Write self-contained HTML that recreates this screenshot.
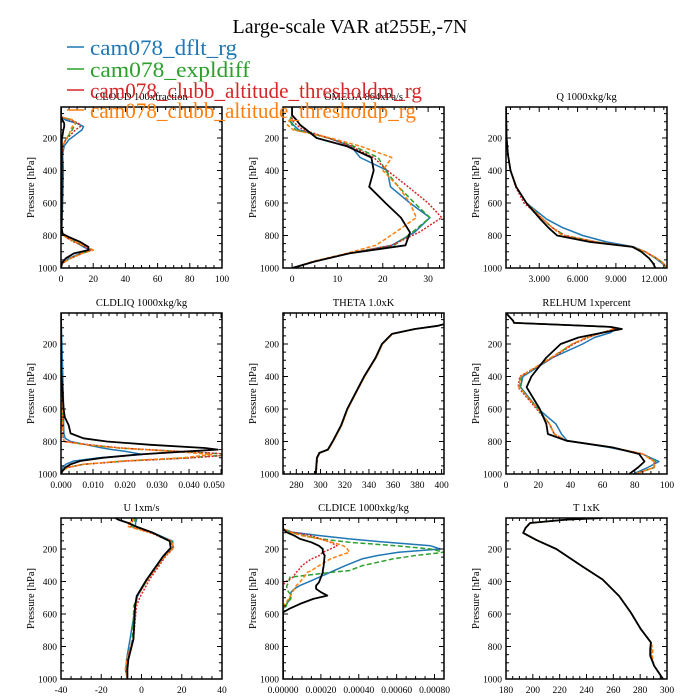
<!DOCTYPE html>
<html><head><meta charset="utf-8"><style>
body{margin:0;background:#fff;}
svg{display:block;font-family:"Liberation Serif",serif;}
</style></head><body>
<svg id="chart" width="700" height="700" viewBox="0 0 700 700" xmlns="http://www.w3.org/2000/svg">
<rect width="700" height="700" fill="#fff"/>
<text x="350" y="33" font-size="20" text-anchor="middle">Large-scale VAR at255E,-7N</text>
<g id="panels"></g>
<g id="legend">
 <line x1="67" y1="47" x2="84" y2="47" stroke="#1f77b4" stroke-width="1.6"/>
 <text x="90" y="55" font-size="22" fill="#1f77b4" textLength="147" lengthAdjust="spacingAndGlyphs">cam078_dflt_rg</text>
 <line x1="67" y1="69" x2="84" y2="69" stroke="#2ca02c" stroke-width="1.6"/>
 <text x="90" y="77" font-size="22" fill="#2ca02c" textLength="160" lengthAdjust="spacingAndGlyphs">cam078_expldiff</text>
 <line x1="67" y1="90" x2="84" y2="90" stroke="#d62728" stroke-width="1.6"/>
 <text x="90" y="98" font-size="22" fill="#d62728" textLength="332" lengthAdjust="spacingAndGlyphs">cam078_clubb_altitude_thresholdm_rg</text>
 <line x1="67" y1="110" x2="84" y2="110" stroke="#ff7f0e" stroke-width="1.6"/>
 <text x="90" y="118" font-size="22" fill="#ff7f0e" textLength="326" lengthAdjust="spacingAndGlyphs">cam078_clubb_altitude_thresholdp_rg</text>
</g>
</svg>
<script>
// ---- data ----
const cloudLev=[10,70,90,110,130,150,180,210,250,300,400,600,750,790,810,840,870,890,910,940,970,1000];
const cloudBlue=[0,0,3,10,14,13,9,5,2,1,1.5,1,0.5,1,4,9,14,18,12,5,1,0];
const cloudGreen=[0,0,7,9,8,7,5,3,1,0.5,0.5,0.5,0.5,0.5,3,9,16,20,13,6,1,0];
const cloudRed=[0,0,6,11,12,9,6,3,1,0.5,0.5,0.5,0.5,0.5,3,8,15,19,13,6,1,0];
const cloudOrange=[0,0,8,9,7,6,5,3,1,0.5,0.5,0.5,0.3,0.5,3,9,16,20,13,6,1,0];
const cloudBlack=[0,0,1,2,2,1.5,1,0.5,0.5,0.5,0.5,0.5,0.3,1,5,12,17,17,8,3,0.5,0];

const omegaLev=[10,60,90,120,150,200,250,320,400,500,600,690,780,860,910,960,1000];
const omegaBlue=[0,0,-0.5,0.3,1.5,8,13,15,21,21.7,26,30.4,27,22,12.6,5,0.3];
const omegaGreen=[0,0,-0.5,0,0.8,8,13.5,19,20.6,23.5,27,30.4,26.5,22.5,12.6,5,0.3];
const omegaRed=[0,0,0,1,2.5,8,13,18,21,25.6,30,33,28,22,12.6,5,0.3];
const omegaOrange=[0,0,-0.5,-1,0.3,8.5,15,22,20,23.5,26,27.4,22.8,18.5,12,4.5,0.3];
const omegaBlack=[0,0,1,1.8,3.2,5.4,12,17.5,18,17,20.6,24,26,25,12.6,5,0];

const qLev=[10,200,300,400,500,600,700,750,800,840,870,900,940,970,1000];
const qBlue=[0.4,0.45,0.55,0.75,1.2,2.0,3.6,4.8,6.4,8.3,10.4,11.3,12.1,12.6,13.0];
const qGreen=[0.4,0.45,0.55,0.75,1.2,2.0,3.3,4.0,5.0,7.5,10.3,11.3,12.2,12.7,13.0];
const qRed=[0.4,0.45,0.55,0.75,1.15,1.8,3.3,4.0,5.0,7.5,10.3,11.3,12.2,12.7,13.0];
const qOrange=[0.4,0.45,0.55,0.75,1.2,2.0,3.3,4.0,4.8,7.5,10.3,11.3,12.2,12.7,13.0];
const qBlack=[0.4,0.45,0.55,0.75,1.2,2.0,3.1,3.7,4.4,7.0,10.3,11.0,11.6,11.9,12.1];

const liqLev=[10,350,600,650,700,750,780,800,820,840,850,860,880,900,920,940,960,980,1000];
const liqBlue=[0,0.0005,0.0008,0.0008,0.0008,0.0009,0.0013,0.003,0.008,0.013,0.016,0.02,0.0255,0.012,0.004,0.0015,0.0005,0.0002,0];
const liqGreen=[0,0,0.0003,0.0004,0.0005,0.0006,0.0007,0.001,0.008,0.018,0.026,0.036,0.054,0.04,0.02,0.007,0.002,0.0005,0];
const liqRed=[0,0,0.0003,0.0004,0.0005,0.0006,0.0007,0.001,0.009,0.019,0.027,0.037,0.055,0.041,0.021,0.007,0.002,0.0005,0];
const liqOrange=[0,0,0.0003,0.0004,0.0005,0.0006,0.0007,0.001,0.008,0.018,0.026,0.035,0.047,0.038,0.019,0.007,0.002,0.0005,0];
const liqBlack=[0,0,0.0008,0.0012,0.0024,0.003,0.007,0.0143,0.028,0.045,0.049,0.04,0.024,0.013,0.006,0.003,0.0013,0.0005,0];

const thetaLev=[78,88,108,138,200,284,400,500,600,700,800,850,870,900,1000];
const thetaBlue=[402,397,378,359.3,351,345.8,336.3,329.3,322.3,317.3,310.3,306.3,299.3,297.3,296.3];
const thetaGreen=[402,397,378,359.3,351,345.8,336.3,329.3,322.3,317.3,310.3,306.3,299.3,297.3,296.3];
const thetaRed=[402,397,378,359.3,351,345.8,336.3,329.3,322.3,317.3,310.3,306.3,299.3,297.3,296.3];
const thetaOrange=[402,397,378,359.5,351.2,346,336.5,329.5,322.5,317.5,310.5,306.5,299.5,297.3,296.3];
const thetaBlack=[402,397,378,359,350.7,345.5,336,329,322,317,310,306,299,297,296];

const rhLev=[9,58,70,80,95,108,130,160,200,284,400,466,600,692,754,795,836,877,923,960,1000];
const rhBlue=[0,4.5,5,30,65,68,65,55,47.6,29,10.5,9,20,31,34.5,38,64,84.7,95,88,79];
const rhGreen=[0,4.5,5,30,65,67,60,50,41.5,28,9.5,8.5,19.8,27,30,37.5,66,85,93,92,80];
const rhRed=[0,4.5,5,30,65,67,60,51,42,29,8.6,7.5,19,27,30,37.5,66,85,92,92,80];
const rhOrange=[0,4.5,5,30,65,67,60,50,41,28,9,8,19.8,27,30,37.5,66,85,92,92,80];
const rhBlack=[0,4.5,5,30,65,72,60,45,34,25,15.8,12.8,21,25,26,37.5,66,82.7,86,82,76.5];

const uLev=[9,19,40,60,101,152,193,244,388,490,550,756,879,940,1000];
const uBlue=[-4,-2.4,-3,-3,6,15.5,15.5,11.5,3,-2,-3,-5.7,-7.4,-7.4,-7];
const uGreen=[-4,-3,-4,-5,5.5,15,15.5,11,3,-2,-3.8,-4.5,-7,-8,-7];
const uRed=[-5,-4,-5,-6,4.5,14.5,16,12,4,-0.5,-2.5,-4,-7,-8,-7];
const uOrange=[-5,-4,-6,-7,5,15,16,11.5,3,-2,-3,-4,-7.4,-8,-7];
const uBlack=[-13,-11.6,-6.5,-3,5.8,14,14.5,10.8,2.6,-2.4,-3.2,-4,-6.5,-7,-7];

const iceLev=[9,76,97,118,138,159,180,200,220,240,261,302,333,343,374,405,425,445,466,487,507,538,570,590,1000];
const iceBlue=[0,0,0.00005,0.0002,0.00035,0.00055,0.00078,0.00083,0.00061,0.0005,0.000417,0.00033,0.00027,0.00025,0.00019,0.00013,0.000088,0.00006,0.000043,0.00004,0.000036,0.00002,0,0,0];
const iceGreen=[0,0,0.00004,0.000112,0.0002,0.00035,0.0006,0.00078,0.00085,0.0007,0.00058,0.00042,0.00035,0.00026,0.000036,0.00003,0.00002,0.00002,0.00003,0.000045,0.00004,0.00002,0.00001,0,0];
const iceRed=[0,0,0.00005,0.00015,0.0002,0.00025,0.000285,0.00025,0.00021,0.000192,0.00015,0.0001,0.00008,0.00007,0.000052,0.00001,0,0,0,0,0,0,0,0,0];
const iceOrange=[0,0,0.00004,0.0001,0.000192,0.00026,0.00032,0.00034,0.00035,0.0003,0.00025,0.00019,0.00015,0.00013,0.00011,0.000088,0.00007,0.00006,0.00005,0.00004,0.00003,0.00001,0,0,0];
const iceBlack=[0,0,0.00002,0.00006,0.00009,0.00015,0.00019,0.00021,0.00021,0.00022,0.000218,0.000215,0.00021,0.00021,0.0002,0.00019,0.000175,0.000175,0.0002,0.000234,0.00016,0.00009,0.00003,0,0];

const tLev=[9,19,40,70,101,145,200,308,388,490,591,693,775,816,857,918,1000];
const tBlue=[252,225,198,194.6,192.8,202.7,217.5,237,252,264.4,273,280.5,288,288,288,290.4,297];
const tGreen=[252,225,198,194.6,192.8,202.7,217.5,237,252,264.4,273,280.5,288,288,288,290.4,297];
const tRed=[252,225,198,194.6,192.8,202.7,217.5,237,252,264.4,273,280.5,288,288,288,290.4,297];
const tOrange=[252,225,198,194.6,192.8,202.7,217.5,237,252,264.4,273,280.5,288,289.5,289,290.4,297];
const tBlack=[252,225,198,194.6,192.8,202.7,217.5,237,252,264.4,273,280.5,288,287.5,287.5,290.4,297];

const yTicks=[200,400,600,800,1000];

// ---- layout ----
const colX=[61,283,506], rowY=[107,313,518], W=161, H=161, PPH=0.1625;
const styles=[
 {key:'blue',c:'#1f77b4',d:''},
 {key:'green',c:'#2ca02c',d:'5,2.5'},
 {key:'red',c:'#d62728',d:'2,1.5'},
 {key:'orange',c:'#ff7f0e',d:'4,2'},
 {key:'black',c:'#000',d:''}];
const panels=[
 {name:'cloud',title:'CLOUD  100xfraction',lev:cloudLev,s:[cloudBlue,cloudGreen,cloudRed,cloudOrange,cloudBlack],x0:0,x1:100,t0:0,t1:100,step:20,dec:0},
 {name:'omega',title:'OMEGA  864xPa/s',lev:omegaLev,s:[omegaBlue,omegaGreen,omegaRed,omegaOrange,omegaBlack],x0:-2,x1:33.5,t0:0,t1:30,step:10,dec:0},
 {name:'q',title:'Q  1000xkg/kg',lev:qLev,s:[qBlue,qGreen,qRed,qOrange,qBlack],x0:0.4,x1:13.0,t0:3,t1:12,step:3,dec:3},
 {name:'cldliq',title:'CLDLIQ  1000xkg/kg',lev:liqLev,s:[liqBlue,liqGreen,liqRed,liqOrange,liqBlack],x0:0,x1:0.0503,t0:0,t1:0.05,step:0.01,dec:3},
 {name:'theta',title:'THETA  1.0xK',lev:thetaLev,s:[thetaBlue,thetaGreen,thetaRed,thetaOrange,thetaBlack],x0:269,x1:402,t0:280,t1:400,step:20,dec:0},
 {name:'relhum',title:'RELHUM  1xpercent',lev:rhLev,s:[rhBlue,rhGreen,rhRed,rhOrange,rhBlack],x0:0,x1:100,t0:0,t1:100,step:20,dec:0},
 {name:'u',title:'U  1xm/s',lev:uLev,s:[uBlue,uGreen,uRed,uOrange,uBlack],x0:-40,x1:40,t0:-40,t1:40,step:20,dec:0},
 {name:'cldice',title:'CLDICE  1000xkg/kg',lev:iceLev,s:[iceBlue,iceGreen,iceRed,iceOrange,iceBlack],x0:0,x1:0.00085,t0:0,t1:0.0008,step:0.0002,dec:5},
 {name:'t',title:'T  1xK',lev:tLev,s:[tBlue,tGreen,tRed,tOrange,tBlack],x0:180,x1:300,t0:180,t1:300,step:20,dec:0}
];
const NS='http://www.w3.org/2000/svg';
function mk(tag,attrs,parent){const e=document.createElementNS(NS,tag);for(const k in attrs)e.setAttribute(k,attrs[k]);parent.appendChild(e);return e;}
const root=document.getElementById('panels');
const defs=mk('defs',{},root);
panels.forEach((P,i)=>{
 const L=colX[i%3], T=rowY[Math.floor(i/3)], B=T+H, R=L+W;
 const xs=v=>L+(v-P.x0)/(P.x1-P.x0)*W;
 const ys=p=>B-(1000-p)*PPH;
 const g=mk('g',{},root);
 
 
 const cp=mk('clipPath',{id:'clip'+i},defs);
 mk('rect',{x:L,y:T,width:W,height:H},cp);
 const tt=mk('text',{x:L+W/2,y:T-7,'font-size':10.5,'text-anchor':'middle'},g);
 tt.textContent=P.title;
 
 
 const yl=mk('text',{x:0,y:0,'font-size':10.5,'text-anchor':'middle',transform:`translate(${L-27},${T+H/2}) rotate(-90)`},g);
 yl.textContent='Pressure [hPa]';
 
 
 const lg=mk('g',{'clip-path':`url(#clip${i})`},g);
 P.s.forEach((vals,k)=>{
  const st=styles[k];
  const pts=vals.map((v,j)=>xs(v).toFixed(1)+','+ys(P.lev[j]).toFixed(1)).join(' ');
  const pl=mk('polyline',{points:pts,fill:'none',stroke:st.c,'stroke-width':k==4?1.8:1.5,'stroke-linejoin':'round'},lg);
  if(st.d)pl.setAttribute('stroke-dasharray',st.d);
  
  
 });
 const fr=mk('rect',{x:L,y:T,width:W,height:H,fill:'none',stroke:'#000','stroke-width':1.5},g);
 
 
 for(let p=50;p<=1000;p+=50){
  const y=ys(p); if(y<T)continue;
  const major=p%200===0, len=major?5:3;
  mk('line',{x1:L,y1:y,x2:L+len,y2:y,stroke:'#000','stroke-width':1},g);
  mk('line',{x1:R,y1:y,x2:R-len,y2:y,stroke:'#000','stroke-width':1},g);
 }
 yTicks.forEach(p=>{
  const t=mk('text',{x:L-4,y:ys(p)+3.5,'font-size':9.5,'text-anchor':'end'},g);
  t.textContent=p;
  
  
 });
 const minor=P.step/4;
 const start=Math.ceil((P.x0)/minor-1e-9);
 for(let n=start;n*minor<=P.x1+1e-12;n++){
  const v=n*minor, x=xs(v);
  const rel=(v-P.t0)/P.step; const major=Math.abs(rel-Math.round(rel))<1e-6;
  const len=major?5:3;
  mk('line',{x1:x,y1:B,x2:x,y2:B-len,stroke:'#000','stroke-width':1},g);
  mk('line',{x1:x,y1:T,x2:x,y2:T+len,stroke:'#000','stroke-width':1},g);
 }
 for(let v=P.t0;v<=P.t1+P.step*1e-6;v+=P.step){
  let x=xs(v); if(x>R-6&&P.dec>0)x=R-8;
  const t=mk('text',{x:x,y:B+14,'font-size':9.5,'text-anchor':'middle'},g);
  t.textContent=(Math.abs(v)<1e-12?0:v).toFixed(P.dec);
  
  
 }
});
</script>
</body></html>
